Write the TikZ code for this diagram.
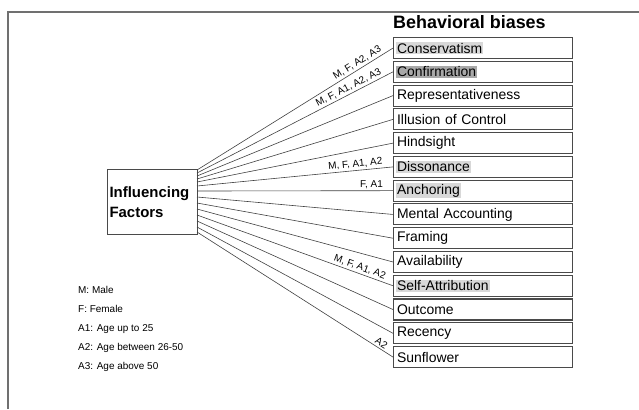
\documentclass[tikz,border=0pt]{standalone}
\usepackage{fontspec}
\setmainfont{Liberation Sans}
\definecolor{framegray}{HTML}{707070}
\definecolor{boxgray}{HTML}{4A4A4A}
\definecolor{lightmark}{HTML}{D8D8D8}
\definecolor{darkmark}{HTML}{A8A8A8}
\newcommand{\hilite}[2]{{\setlength{\fboxsep}{1pt}\colorbox{#1}{#2}}}
\tikzset{
  bias/.style={draw=boxgray, line width=1.1bp, anchor=north west, minimum height=21bp,
    text width=174bp, inner xsep=2.5bp, inner ysep=0pt, align=left,
    font=\fontsize{14}{16}\selectfont},
  link/.style={draw=black!75, line width=0.6bp},
  tag/.style={sloped, pos=0.97, anchor=south east, inner xsep=4bp, inner ysep=2bp,
    font=\fontsize{10}{12}\selectfont},
  legend/.style={anchor=base west, inner sep=0pt, font=\fontsize{10}{12}\selectfont}
}
\begin{document}
\begin{tikzpicture}[x=1bp,y=-1bp]
\useasboundingbox (0,0) rectangle (639,409);
\draw[framegray, line width=1.5bp] (8,409) -- (8,12) -- (639,12);
\node[anchor=base west, inner sep=0pt, font=\bfseries\fontsize{18}{20}\selectfont] (title) at (393,28) {Behavioral biases};
\node[draw=boxgray, line width=1.1bp, anchor=north west, minimum width=90bp, minimum height=65bp,
  text width=86bp, inner xsep=2bp, align=left, font=\bfseries\fontsize{15}{20}\selectfont] (fac) at (107,169) {Influencing\\Factors};
\foreach \name/\tint/\sy [count=\i from 0] in {Conservatism/lightmark/170, Confirmation/darkmark/173,
  Representativeness/white/176, Illusion of Control/white/179, Hindsight/white/182,
  Dissonance/lightmark/186, Anchoring/lightmark/191, Mental Accounting/white/197,
  Framing/white/203, Availability/white/209, Self-Attribution/lightmark/215,
  Outcome/white/221, Recency/white/227, Sunflower/white/232}
{
  \node[bias] (b\i) at (393,{37+23.77*\i}) {\hilite{\tint}{\name}};
  \coordinate (s\i) at (197,\sy);
  \draw[link] (s\i) -- (b\i.west);
}
\path (s0) -- (b0.west) node[tag] {M, F, A2, A3};
\path (s1) -- (b1.west) node[tag] {M, F, A1, A2, A3};
\path (s5) -- (b5.west) node[tag] {M, F, A1, A2};
\path (s6) -- (b6.west) node[tag] {F, A1};
\path (s10) -- (b10.west) node[tag] {M, F, A1, A2};
\path (s13) -- (b13.west) node[tag] {A2};
\foreach \txt [count=\j from 0] in {M: Male, F: Female, A1: Age up to 25, A2: Age between 26-50, A3: Age above 50}
  \node[legend] (key\j) at (78,{293+19*\j}) {\txt};
\end{tikzpicture}
\end{document}
